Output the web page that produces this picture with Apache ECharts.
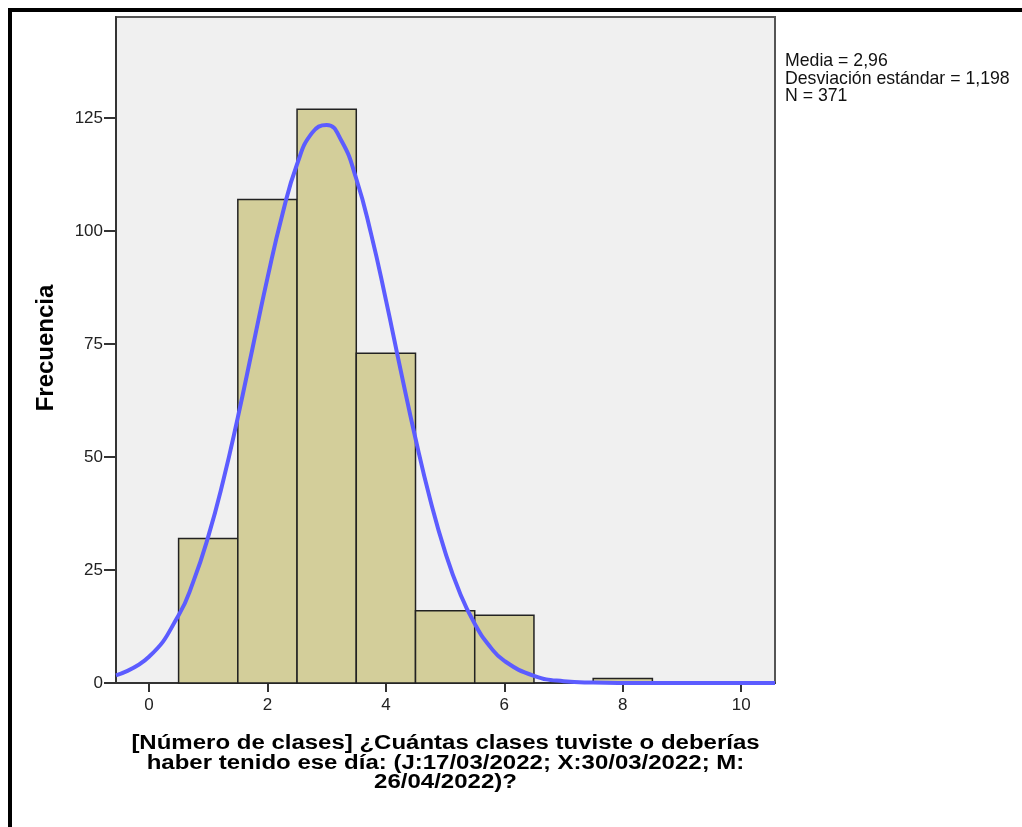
<!DOCTYPE html>
<html>
<head>
<meta charset="utf-8">
<script src="https://cdn.jsdelivr.net/npm/echarts@6/dist/echarts.min.js"></script>
<style>
  html, body { margin: 0; padding: 0; background: #fff; }
  #chart { width: 1022px; height: 827px; }
</style>
</head>
<body>
<div id="chart"></div>
<script>
// histogram bins (centre of each 1-wide bin) and counts
const binCenters = [1, 2, 3, 4, 5, 6, 7, 8]
const binCounts = [32, 107, 127, 73, 16, 15, 0, 1]
const binWidth = 1

// normal curve
const curveX = [-0.557, 0, 0.5, 0.75, 1, 1.25, 1.5, 1.75, 2, 2.25, 2.5, 2.75, 3, 3.25, 3.5, 3.75, 4, 4.25, 4.5, 4.75, 5, 5.25, 5.5, 5.75, 6, 6.5, 7, 7.5, 8, 9, 10.57]
const curveY = [1.7, 5.8, 15.0, 22.5, 32.4, 44.6, 58.8, 74.2, 89.6, 103.6, 114.8, 121.7, 123.5, 120.0, 111.6, 99.4, 84.8, 69.2, 54.1, 40.5, 29.0, 19.9, 13.1, 8.2, 4.9, 1.6, 0.4, 0.1, 0.02, 0, 0]

const xTicks = [0, 2, 4, 6, 8, 10]
const statsLines = ['Media = 2,96', 'Desviación estándar = 1,198', 'N = 371']

const xTitle = '[Número de clases] ¿Cuántas clases tuviste o deberías\nhaber tenido ese día: (J:17/03/2022; X:30/03/2022; M:\n26/04/2022)?'
const yTitle = 'Frecuencia'

const chart = echarts.init(document.getElementById('chart'))

const font = '"Liberation Sans", Arial, sans-serif'

chart.setOption({
  animation: false,
  textStyle: { fontFamily: font },
  graphic: [
    {
      type: 'rect',
      shape: { x: 10, y: 10, width: 1200, height: 1000 },
      style: { fill: 'none', stroke: '#000', lineWidth: 4 },
      z: 100
    },
    {
      type: 'text',
      left: 785,
      top: 52,
      style: {
        text: statsLines.join('\n'),
        font: '17.7px ' + font,
        lineHeight: 17.7,
        fill: '#111'
      }
    },
    {
      type: 'text',
      x: 445.5,
      y: 763,
      scaleX: 1.2,
      style: {
        text: xTitle,
        font: 'bold 20px ' + font,
        lineHeight: 19.7,
        align: 'center',
        verticalAlign: 'middle',
        fill: '#000'
      }
    },
    {
      type: 'text',
      x: 46.5,
      y: 348,
      rotation: Math.PI / 2,
      style: {
        text: yTitle,
        font: 'bold 24px ' + font,
        align: 'center',
        verticalAlign: 'middle',
        fill: '#000'
      }
    }
  ],
  grid: {
    left: 116,
    right: 247,
    top: 17,
    bottom: 144,
    show: true,
    backgroundColor: '#f0f0f0',
    borderColor: '#555',
    borderWidth: 2
  },
  xAxis: {
    type: 'value',
    min: -0.557,
    max: 10.57,
    axisLine: { show: true, onZero: false, lineStyle: { color: '#333', width: 2 } },
    axisTick: { show: true, length: 9, customValues: xTicks, lineStyle: { color: '#333', width: 2 } },
    axisLabel: { customValues: xTicks, fontSize: 17, color: '#222', margin: 14 },
    splitLine: { show: false }
  },
  yAxis: {
    type: 'value',
    min: 0,
    max: 147.4,
    interval: 25,
    axisLine: { show: true, onZero: false, lineStyle: { color: '#333', width: 2 } },
    axisTick: { show: true, length: 12, lineStyle: { color: '#333', width: 2 } },
    axisLabel: { fontSize: 17, color: '#222', margin: 13, showMaxLabel: false },
    splitLine: { show: false }
  },
  series: [
    {
      type: 'custom',
      data: binCenters.map((c, i) => [c, binCounts[i]]),
      renderItem: (params, api) => {
        const c = api.value(0)
        const n = api.value(1)
        if (!n) return null
        const p0 = api.coord([c - binWidth / 2, n])
        const p1 = api.coord([c + binWidth / 2, 0])
        return {
          type: 'rect',
          shape: { x: p0[0], y: p0[1], width: p1[0] - p0[0], height: p1[1] - p0[1] },
          style: { fill: '#d3ce9a', stroke: '#222', lineWidth: 1.5 }
        }
      },
      z: 2
    },
    {
      type: 'line',
      data: curveX.map((x, i) => [x, curveY[i]]),
      smooth: true,
      showSymbol: false,
      lineStyle: { color: '#5c5cff', width: 4 },
      z: 3
    }
  ]
})
</script>
</body>
</html>
